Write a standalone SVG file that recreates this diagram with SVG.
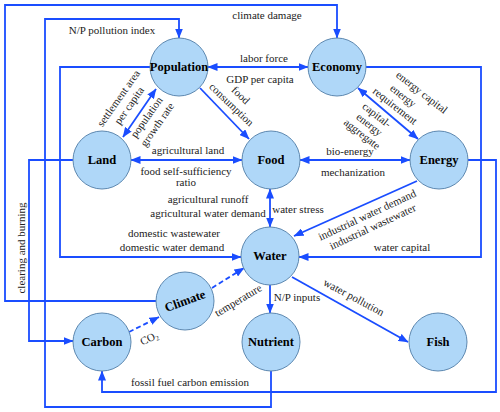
<svg xmlns="http://www.w3.org/2000/svg" width="500" height="412" viewBox="0 0 500 412">
<style>
.node circle{fill:#afd7f8;stroke:#5d88b0;stroke-width:1}
.node text{font-family:"Liberation Serif",serif;font-weight:bold;font-size:12.5px;text-anchor:middle;fill:#000}
.c path{fill:none;stroke:#1a4dff;stroke-width:1.8}
.c .d{stroke-dasharray:5,3}
.lb{font-family:"Liberation Serif",serif;font-size:11px;fill:#222;text-anchor:middle}
</style>
<defs>
<marker id="a" viewBox="0 0 10 8" refX="9.5" refY="4" markerWidth="10" markerHeight="8" markerUnits="userSpaceOnUse" orient="auto-start-reverse">
<path d="M0,0 L10,4 L0,8 z" fill="#1a4dff"/>
</marker>
</defs>
<rect width="500" height="412" fill="#fff"/>
<g class="c" id="connectors">
<path d="M156,301 H5 V5 H337 V38" marker-end="url(#a)"/>
<path d="M271,371 V407 H45 V19 H179 V38" marker-end="url(#a)"/>
<path d="M150,67 H60 V257 H241" marker-end="url(#a)"/>
<path d="M73,160 H29 V341 H73" marker-end="url(#a)"/>
<path d="M468,160 H496 V392 H102 V371" marker-end="url(#a)"/>
<path d="M366,67 H481 V257 H299" marker-end="url(#a)"/>
<path d="M208,67 H308" marker-start="url(#a)" marker-end="url(#a)"/>
<path d="M200,88 L249,139" marker-end="url(#a)"/>
<path d="M156,89 L123,137" marker-start="url(#a)" marker-end="url(#a)"/>
<path d="M358,88 L418,139" marker-start="url(#a)" marker-end="url(#a)"/>
<path d="M131,160 H242" marker-start="url(#a)" marker-end="url(#a)"/>
<path d="M300,160 H410" marker-start="url(#a)" marker-end="url(#a)"/>
<path d="M270,189 V227" marker-start="url(#a)" marker-end="url(#a)"/>
<path d="M417,181 L294,236" marker-end="url(#a)"/>
<path class="d" d="M212,288 L244,268" marker-end="url(#a)"/>
<path class="d" d="M129,332 L159,317" marker-end="url(#a)"/>
<path d="M270,285 V313" marker-end="url(#a)"/>
<path d="M292,277 L408,342" marker-end="url(#a)"/>
</g>
<g id="population" class="node"><circle cx="179" cy="67" r="29"/><text x="179" y="71">Population</text></g>
<g id="economy" class="node"><circle cx="337" cy="67" r="29"/><text x="337" y="71">Economy</text></g>
<g id="land" class="node"><circle cx="102" cy="160" r="29"/><text x="102" y="164">Land</text></g>
<g id="food" class="node"><circle cx="271" cy="160" r="29"/><text x="271" y="164">Food</text></g>
<g id="energy" class="node"><circle cx="439" cy="160" r="29"/><text x="439" y="164">Energy</text></g>
<g id="water" class="node"><circle cx="270" cy="256" r="29"/><text x="270" y="260">Water</text></g>
<g id="climate" class="node"><circle cx="185" cy="301" r="29"/><text x="185" y="305" transform="rotate(-20 185 301)">Climate</text></g>
<g id="carbon" class="node"><circle cx="102" cy="342" r="29"/><text x="102" y="346">Carbon</text></g>
<g id="nutrient" class="node"><circle cx="271" cy="342" r="29"/><text x="271" y="346">Nutrient</text></g>
<g id="fish" class="node"><circle cx="438" cy="342" r="29"/><text x="438" y="346">Fish</text></g>
<g id="labels">
<text class="lb" x="267" y="19">climate damage</text>
<text class="lb" x="112" y="34">N/P pollution index</text>
<text class="lb" x="264" y="62">labor force</text>
<text class="lb" x="260" y="83">GDP per capita</text>
<text class="lb" transform="translate(124,102) rotate(-55)"><tspan x="0" y="-3">settlement area</tspan><tspan x="0" y="10">per capita</tspan></text>
<text class="lb" transform="translate(152,121) rotate(-55)"><tspan x="0" y="-3">population</tspan><tspan x="0" y="10">growth rate</tspan></text>
<text class="lb" transform="translate(236,100) rotate(44)"><tspan x="0" y="-3">food</tspan><tspan x="0" y="10">consumption</tspan></text>
<text class="lb" transform="translate(422,92) rotate(38)" y="4">energy capital</text>
<text class="lb" transform="translate(399,101) rotate(38)"><tspan x="0" y="-3">energy</tspan><tspan x="0" y="10">requirement</tspan></text>
<text class="lb" transform="translate(369,125) rotate(38)"><tspan x="0" y="-9">capital-</tspan><tspan x="0" y="3">energy</tspan><tspan x="0" y="15">aggregate</tspan></text>
<text class="lb" x="188" y="154">agricultural land</text>
<text class="lb" x="186" y="175">food self-sufficiency</text>
<text class="lb" x="186" y="186">ratio</text>
<text class="lb" x="350" y="155">bio-energy</text>
<text class="lb" x="353" y="176">mechanization</text>
<text class="lb" x="298" y="213">water stress</text>
<text class="lb" x="208" y="203">agricultural runoff</text>
<text class="lb" x="208" y="217">agricultural water demand</text>
<text class="lb" x="174" y="237">domestic wastewater</text>
<text class="lb" x="172" y="251">domestic water demand</text>
<text class="lb" transform="translate(370,221) rotate(-25)"><tspan x="0" y="-3">industrial water demand</tspan><tspan x="0" y="10">industrial wastewater</tspan></text>
<text class="lb" x="402" y="251">water capital</text>
<text class="lb" transform="translate(21,248) rotate(-90)" y="4">clearing and burning</text>
<text class="lb" transform="translate(238,300) rotate(-31)" y="4">temperature</text>
<text class="lb" transform="translate(149,338) rotate(-25)" y="4">CO<tspan font-size="7" dy="2">2</tspan></text>
<text class="lb" x="297" y="301">N/P inputs</text>
<text class="lb" transform="translate(354,297) rotate(28)" y="4">water pollution</text>
<text class="lb" x="190" y="386">fossil fuel carbon emission</text>
</g>
</svg>
